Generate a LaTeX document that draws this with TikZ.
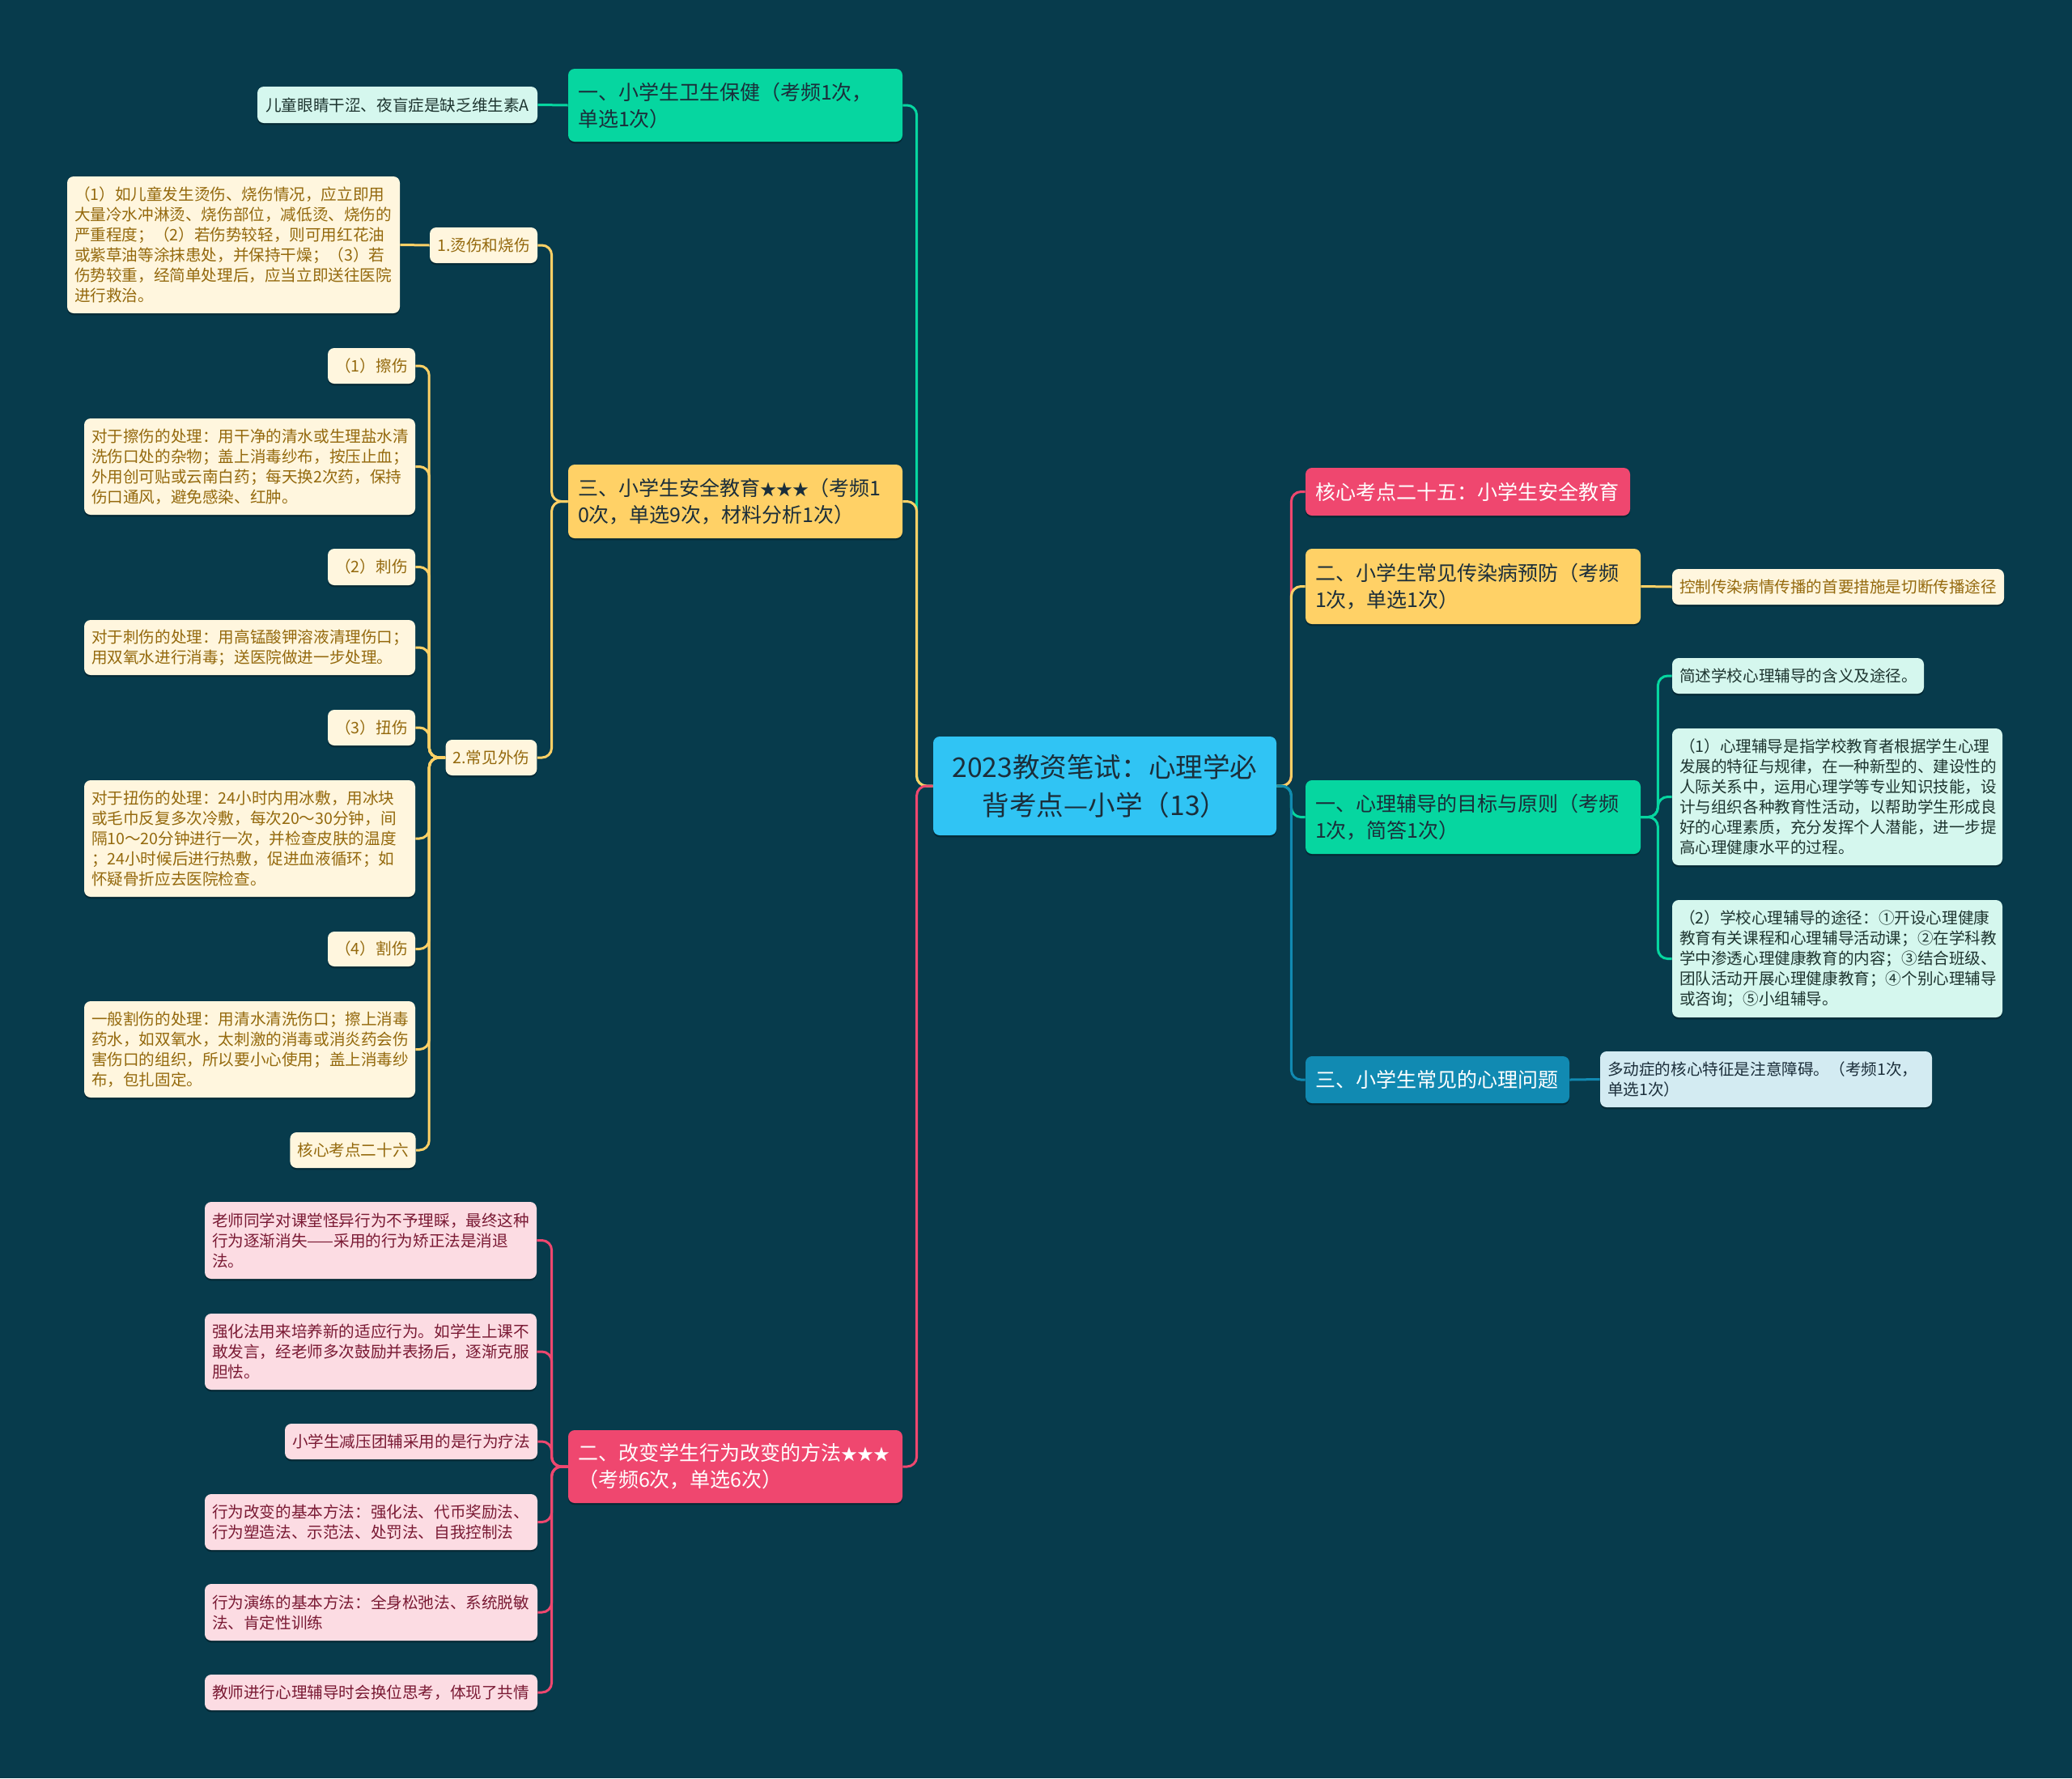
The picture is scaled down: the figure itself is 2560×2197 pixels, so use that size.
\documentclass[tikz,border=0pt]{standalone}
\usepackage{fontspec}
\setmainfont{Noto Sans CJK SC}
\usetikzlibrary{shadows}
\definecolor{bgc}{HTML}{073B4C}
\definecolor{cgreen}{HTML}{06D6A0}
\definecolor{cyellow}{HTML}{FFD166}
\definecolor{cpink}{HTML}{EF476F}
\definecolor{cblue}{HTML}{118AB2}
\definecolor{ccentral}{HTML}{30C4F4}
\definecolor{cdark}{HTML}{1B2E3A}
\definecolor{cmint}{HTML}{D5F7EE}
\definecolor{cmintt}{HTML}{1E3530}
\definecolor{ccream}{HTML}{FFF6DE}
\definecolor{cgold}{HTML}{94690D}
\definecolor{cpinkl}{HTML}{FCDCE3}
\definecolor{cmaroon}{HTML}{7A1A34}
\definecolor{cbluel}{HTML}{D3EBF2}
\newcommand\stars{{\fontsize{10}{16.5}\selectfont ★★★}}
\tikzset{
  nb/.style={draw=none, rounded corners=4pt, inner ysep=1pt,
    drop shadow={shadow xshift=0pt, shadow yshift=-1.2pt, fill=black, opacity=0.3}},
  big/.style={nb, font=\fontsize{12.5}{16.5}\selectfont, inner xsep=6pt, align=left},
  sml/.style={nb, font=\fontsize{9.8}{12.5}\selectfont, inner xsep=4.5pt, align=left},
  gbig/.style={big, fill=cgreen, text=cdark},
  ybig/.style={big, fill=cyellow, text=cdark},
  pbig/.style={big, fill=cpink, text=white},
  bbig/.style={big, fill=cblue, text=white},
  gsm/.style={sml, fill=cmint, text=cmintt},
  ysm/.style={sml, fill=ccream, text=cgold},
  psm/.style={sml, fill=cpinkl, text=cmaroon},
  bsm/.style={sml, fill=cbluel, text=cdark},
  central/.style={nb, fill=ccentral, text=cdark, font=\fontsize{16.8}{23.5}\selectfont, align=center},
  ln/.style={line width=1.5pt, rounded corners=6pt},
  lnG/.style={ln, draw=cgreen},
  lnY/.style={ln, draw=cyellow},
  lnP/.style={ln, draw=cpink},
  lnB/.style={ln, draw=cblue},
}
\begin{document}
\begin{tikzpicture}[x={(0.5pt,0)}, y={(0,-0.5pt)}]
\useasboundingbox (0,0) rectangle (2560,2197);
\fill[bgc] (0,0) rectangle (2560,2197);

% central
\node[central, minimum width=212pt, minimum height=61pt] (C) at (1365,971) {2023教资笔试：心理学必\\背考点—小学（13）};

% left level 1
\node[gbig, text width=194.5pt, minimum height=45pt] (A1) at (908.5,130) {一、小学生卫生保健（考频1次，\\单选1次）};
\node[ybig, text width=194.5pt, minimum height=45.5pt] (A3) at (908.5,619.5) {三、小学生安全教育\stars（考频1\\0次，单选9次，材料分析1次）};
\node[pbig, text width=194.5pt, minimum height=45pt] (A2) at (908.5,1812) {二、改变学生行为改变的方法\stars\\（考频6次，单选6次）};

% A1 child
\node[gsm, align=center, minimum width=173pt, minimum height=22.5pt] (A1c) at (491,129.5) {儿童眼睛干涩、夜盲症是缺乏维生素A};

% A3 subtree
\node[ysm, align=center, minimum width=66.5pt, minimum height=22pt] (B1) at (597.5,303) {1.烫伤和烧伤};
\node[ysm, text width=196.5pt, minimum height=84.5pt] (burn) at (288.5,302.5) {（1）如儿童发生烫伤、烧伤情况，应立即用\\大量冷水冲淋烫、烧伤部位，减低烫、烧伤的\\严重程度；（2）若伤势较轻，则可用红花油\\或紫草油等涂抹患处，并保持干燥；（3）若\\伤势较重，经简单处理后，应当立即送往医院\\进行救治。};
\node[ysm, align=center, minimum width=56pt, minimum height=22pt] (B2) at (607,936) {2.常见外伤};
\node[ysm, align=center, minimum width=54pt, minimum height=22pt] (c1) at (459,452) {（1）擦伤};
\node[ysm, text width=195.5pt, minimum height=59.5pt] (c1t) at (308.5,576.5) {对于擦伤的处理：用干净的清水或生理盐水清\\洗伤口处的杂物；盖上消毒纱布，按压止血；\\外用创可贴或云南白药；每天换2次药，保持\\伤口通风，避免感染、红肿。};
\node[ysm, align=center, minimum width=54pt, minimum height=22.5pt] (c2) at (459,700.5) {（2）刺伤};
\node[ysm, text width=195.5pt, minimum height=34pt] (c2t) at (308.5,800) {对于刺伤的处理：用高锰酸钾溶液清理伤口；\\用双氧水进行消毒；送医院做进一步处理。};
\node[ysm, align=center, minimum width=54pt, minimum height=22pt] (c3) at (459,899) {（3）扭伤};
\node[ysm, text width=195.5pt, minimum height=72pt] (c3t) at (308.5,1036) {对于扭伤的处理：24小时内用冰敷，用冰块\\或毛巾反复多次冷敷，每次20～30分钟，间\\隔10～20分钟进行一次，并检查皮肤的温度\\；24小时候后进行热敷，促进血液循环；如\\怀疑骨折应去医院检查。};
\node[ysm, align=center, minimum width=54pt, minimum height=21.5pt] (c4) at (459,1172.5) {（4）割伤};
\node[ysm, text width=195.5pt, minimum height=59.5pt] (c4t) at (308.5,1296.5) {一般割伤的处理：用清水清洗伤口；擦上消毒\\药水，如双氧水，太刺激的消毒或消炎药会伤\\害伤口的组织，所以要小心使用；盖上消毒纱\\布，包扎固定。};
\node[ysm, align=center, minimum width=77pt, minimum height=22pt] (c5) at (436,1421) {核心考点二十六};

% A2 subtree
\node[psm, text width=196pt, minimum height=47.5pt] (p1) at (458,1532.5) {老师同学对课堂怪异行为不予理睬，最终这种\\行为逐渐消失——采用的行为矫正法是消退\\法。};
\node[psm, text width=196pt, minimum height=47pt] (p2) at (458,1670) {强化法用来培养新的适应行为。如学生上课不\\敢发言，经老师多次鼓励并表扬后，逐渐克服\\胆怯。};
\node[psm, align=center, minimum width=156pt, minimum height=22pt] (p3) at (508,1781) {小学生减压团辅采用的是行为疗法};
\node[psm, text width=196.5pt, minimum height=34.5pt] (p4) at (458.5,1880.5) {行为改变的基本方法：强化法、代币奖励法、\\行为塑造法、示范法、处罚法、自我控制法};
\node[psm, text width=196.5pt, minimum height=35pt] (p5) at (458.5,1992) {行为演练的基本方法：全身松弛法、系统脱敏\\法、肯定性训练};
\node[psm, text width=196.5pt, minimum height=22pt] (p6) at (458.5,2091) {教师进行心理辅导时会换位思考，体现了共情};

% right side
\node[pbig, text width=188.5pt, minimum height=29.5pt] (R1) at (1813.5,607.5) {核心考点二十五：小学生安全教育};
\node[ybig, text width=195pt, minimum height=46.5pt] (R2) at (1820,724.5) {二、小学生常见传染病预防（考频\\1次，单选1次）};
\node[ysm, align=center, minimum width=203pt, minimum height=22pt] (R2c) at (2271,725) {控制传染病情传播的首要措施是切断传播途径};
\node[gbig, text width=195pt, minimum height=45.5pt] (R3) at (1820,1009.5) {一、心理辅导的目标与原则（考频\\1次，简答1次）};
\node[gsm, text width=146.5pt, minimum height=22pt] (R3a) at (2221.5,835) {简述学校心理辅导的含义及途径。};
\node[gsm, text width=195pt, minimum height=84.5pt] (R3b) at (2270,984.5) {（1）心理辅导是指学校教育者根据学生心理\\发展的特征与规律，在一种新型的、建设性的\\人际关系中，运用心理学等专业知识技能，设\\计与组织各种教育性活动，以帮助学生形成良\\好的心理素质，充分发挥个人潜能，进一步提\\高心理健康水平的过程。};
\node[gsm, text width=195pt, minimum height=72.5pt] (R3c) at (2270,1184.5) {（2）学校心理辅导的途径：①开设心理健康\\教育有关课程和心理辅导活动课；②在学科教\\学中渗透心理健康教育的内容；③结合班级、\\团队活动开展心理健康教育；④个别心理辅导\\或咨询；⑤小组辅导。};
\node[bbig, text width=151pt, minimum height=29pt] (R4) at (1776,1334) {三、小学生常见的心理问题};
\node[bsm, text width=196pt, minimum height=34.5pt] (R4c) at (2182,1333.5) {多动症的核心特征是注意障碍。（考频1次，\\单选1次）};

% connectors left
\draw[lnG] (C.west) -- ++(-20,0) |- (A1.east);
\draw[lnY] (C.west) -- ++(-20,0) |- (A3.east);
\draw[lnP] (C.west) -- ++(-20,0) |- (A2.east);
\draw[lnG] (A1.west) -- (A1c.east);
\draw[lnY] (A3.west) -- ++(-20,0) |- (B1.east);
\draw[lnY] (A3.west) -- ++(-20,0) |- (B2.east);
\draw[lnY] (B1.west) -- (burn.east);
\foreach \n in {c1,c1t,c2,c2t,c3,c3t,c4,c4t,c5}
  \draw[lnY] (B2.west) -- ++(-20,0) |- (\n.east);
\foreach \n in {p1,p2,p3,p4,p5,p6}
  \draw[lnP] (A2.west) -- ++(-20,0) |- (\n.east);

% connectors right
\draw[lnP] (C.east) -- ++(18,0) |- (R1.west);
\draw[lnY] (C.east) -- ++(18,0) |- (R2.west);
\draw[lnG] (C.east) -- ++(18,0) |- (R3.west);
\draw[lnB] (C.east) -- ++(18,0) |- (R4.west);
\draw[lnY] (R2.east) -- (R2c.west);
\foreach \n in {R3a,R3b,R3c}
  \draw[lnG] (R3.east) -- ++(21,0) |- (\n.west);
\draw[lnB] (R4.east) -- (R4c.west);
\end{tikzpicture}
\end{document}
